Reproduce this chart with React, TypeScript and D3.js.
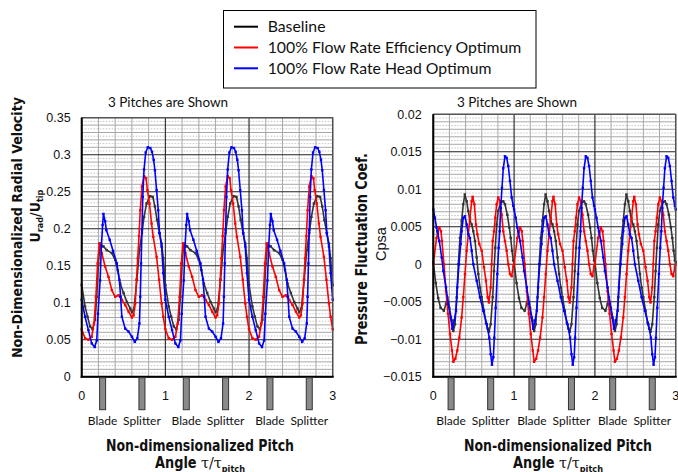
import React from "react";
import * as d3 from "d3";

const W = 678;
const H = 472;

// One blade pitch of each measured trace: [pitch fraction, value]
const radialBaseline: [number, number][] = [
  [0, 0.124], [0.04, 0.095], [0.07, 0.081], [0.1, 0.068], [0.13, 0.064], [0.16, 0.077],
  [0.18, 0.108], [0.2, 0.153], [0.22, 0.18], [0.26, 0.176], [0.3, 0.171], [0.36, 0.167],
  [0.4, 0.158], [0.43, 0.144], [0.46, 0.126], [0.5, 0.113], [0.54, 0.101], [0.58, 0.092],
  [0.6, 0.087], [0.625, 0.092], [0.66, 0.131], [0.69, 0.171], [0.72, 0.194], [0.745, 0.216],
  [0.775, 0.234], [0.815, 0.244], [0.85, 0.243], [0.875, 0.23], [0.9, 0.212], [0.93, 0.194],
  [0.955, 0.18], [0.975, 0.16],
];
const radialEfficiency: [number, number][] = [
  [0, 0.064], [0.04, 0.052], [0.08, 0.05], [0.12, 0.054], [0.147, 0.072], [0.17, 0.108],
  [0.19, 0.153], [0.21, 0.18], [0.24, 0.167], [0.28, 0.149], [0.32, 0.135], [0.36, 0.117],
  [0.4, 0.108], [0.44, 0.11], [0.48, 0.104], [0.52, 0.097], [0.56, 0.088], [0.6, 0.08],
  [0.62, 0.083], [0.64, 0.099], [0.655, 0.131], [0.67, 0.16], [0.685, 0.19], [0.7, 0.225],
  [0.72, 0.257], [0.745, 0.271], [0.77, 0.268], [0.785, 0.252], [0.81, 0.234], [0.835, 0.207],
  [0.855, 0.189], [0.895, 0.162], [0.925, 0.131], [0.955, 0.099], [0.975, 0.081],
];
const radialHead: [number, number][] = [
  [0, 0.104], [0.04, 0.081], [0.08, 0.063], [0.12, 0.045], [0.155, 0.04], [0.18, 0.049],
  [0.195, 0.085], [0.22, 0.13], [0.235, 0.176], [0.25, 0.205], [0.26, 0.22], [0.28, 0.21],
  [0.295, 0.198], [0.335, 0.185], [0.375, 0.17], [0.42, 0.153], [0.45, 0.131], [0.465, 0.108],
  [0.48, 0.081], [0.52, 0.065], [0.56, 0.061], [0.6, 0.054], [0.635, 0.047], [0.665, 0.052],
  [0.69, 0.072], [0.7, 0.108], [0.71, 0.153], [0.72, 0.198], [0.73, 0.243], [0.745, 0.28],
  [0.765, 0.303], [0.79, 0.31], [0.82, 0.309], [0.84, 0.304], [0.86, 0.293], [0.875, 0.279],
  [0.895, 0.252], [0.915, 0.225], [0.93, 0.194], [0.955, 0.176], [0.975, 0.14],
];

const pressureBaseline: [number, number][] = [
  [0, 0.0003], [0.03, -0.0025], [0.06, -0.0045], [0.09, -0.0058], [0.13, -0.0062], [0.157, -0.0053],
  [0.173, -0.0044], [0.198, -0.0058], [0.228, -0.0075], [0.248, -0.0089], [0.268, -0.008],
  [0.29, -0.0044], [0.31, 0], [0.33, 0.0035], [0.351, 0.0058], [0.371, 0.008], [0.39, 0.0093],
  [0.413, 0.0084], [0.433, 0.0071], [0.454, 0.0058], [0.475, 0.0053], [0.495, 0.0044],
  [0.516, 0.0031], [0.537, 0.0009], [0.557, -0.0013], [0.578, -0.0031], [0.599, -0.0044],
  [0.627, -0.0062], [0.652, -0.0078], [0.673, -0.0086], [0.689, -0.009], [0.71, -0.008],
  [0.735, -0.0044], [0.751, -0.0009], [0.767, 0.0022], [0.784, 0.0053], [0.804, 0.0071],
  [0.834, 0.0082], [0.866, 0.0084], [0.887, 0.008], [0.916, 0.0066], [0.941, 0.0049],
  [0.958, 0.0035], [0.974, 0.0018], [0.99, 0.0005],
];
const pressureEfficiency: [number, number][] = [
  [0, 0], [0.04, 0.0035], [0.055, 0.0042], [0.075, 0.0049], [0.095, 0.0044], [0.107, 0.0031],
  [0.132, 0], [0.157, -0.0036], [0.182, -0.0066], [0.207, -0.0093], [0.231, -0.0115],
  [0.248, -0.013], [0.273, -0.0126], [0.297, -0.0115], [0.322, -0.0098], [0.351, -0.0071],
  [0.371, -0.0044], [0.392, -0.0013], [0.413, 0.0018], [0.433, 0.004], [0.454, 0.0062],
  [0.475, 0.0084], [0.487, 0.009], [0.508, 0.008], [0.528, 0.0053], [0.545, 0.004],
  [0.569, 0.0027], [0.599, 0.0018], [0.627, -0.0004], [0.652, -0.0022], [0.673, -0.0044],
  [0.689, -0.0051], [0.71, -0.0031], [0.722, 0], [0.735, 0.0031], [0.751, 0.0044],
  [0.767, 0.0062], [0.784, 0.008], [0.804, 0.0089], [0.825, 0.0084], [0.846, 0.0066],
  [0.866, 0.0044], [0.887, 0.0031], [0.908, 0.0018], [0.928, 0], [0.949, -0.0013],
  [0.97, -0.0016], [0.99, -0.0003],
];
const pressureHead: [number, number][] = [
  [0, 0.0073], [0.02, 0.0062], [0.04, 0.0049], [0.05, 0.0044], [0.074, 0.0031], [0.104, 0.0009],
  [0.124, -0.0009], [0.157, -0.0031], [0.186, -0.0053], [0.215, -0.0071], [0.235, -0.0086],
  [0.26, -0.0075], [0.281, -0.0062], [0.297, -0.0031], [0.318, 0], [0.339, 0.0027],
  [0.351, 0.0044], [0.371, 0.0062], [0.392, 0.0064], [0.413, 0.0053], [0.433, 0.004],
  [0.454, 0.0035], [0.475, 0.0018], [0.495, 0], [0.537, -0.0022], [0.578, -0.0044],
  [0.619, -0.0062], [0.661, -0.008], [0.693, -0.0098], [0.71, -0.012], [0.726, -0.0134],
  [0.743, -0.0124], [0.755, -0.0098], [0.772, -0.0058], [0.792, -0.0013], [0.809, 0.0022],
  [0.822, 0.0044], [0.834, 0.0075], [0.85, 0.0102], [0.866, 0.0128], [0.887, 0.0144],
  [0.908, 0.0142], [0.928, 0.0131], [0.949, 0.0111], [0.97, 0.0089], [0.99, 0.0078],
];

const pitches = [0, 1, 2];
const seriesNames = ["Baseline", "100% Flow Rate Efficiency Optimum", "100% Flow Rate Head Optimum"];
const seriesColors = ["#333333", "#ff0000", "#0000ff"];
const radialTicks = [0, 0.05, 0.1, 0.15, 0.2, 0.25, 0.3, 0.35];
const pressureTicks = [-0.015, -0.01, -0.005, 0, 0.005, 0.01, 0.015, 0.02];
const pitchTicks = [0, 1, 2, 3];
const radialBladeMarks: [string, number][] = [["Blade", 0.25], ["Splitter", 0.72]];
const pressureBladeMarks: [string, number][] = [["Blade", 0.22], ["Splitter", 0.71]];
const panelTitle = "3 Pitches are Shown";

const condensed = "'DejaVu Sans Condensed', 'DejaVu Sans', sans-serif";
const plain = "'Liberation Sans', Arial, sans-serif";
const humanist = "Lato, 'Open Sans', sans-serif";
const fmt = d3.format("");

function acrossPitches(pts: [number, number][]): [number, number][] {
  const out: [number, number][] = [];
  pitches.forEach((k) => pts.forEach(([p, v]) => out.push([p + k, v])));
  out.push([pitches.length, pts[0][1]]);
  return out;
}

type PanelProps = {
  left: number;
  right: number;
  top: number;
  bottom: number;
  domain: [number, number];
  gridStep: number;
  ticks: number[];
  tickRight: number;
  traces: [number, number][][];
  marks: [string, number][];
  titleX: number;
  axisCenter: number;
};

function Panel(p: PanelProps) {
  const x = d3.scaleLinear().domain([0, 3]).range([p.left, p.right]);
  const y = d3.scaleLinear().domain(p.domain).range([p.bottom, p.top]);
  const line = d3
    .line<[number, number]>()
    .x((d) => x(d[0]))
    .y((d) => y(d[1]));
  const iMin = Math.round(p.domain[0] / p.gridStep);
  const iMax = Math.round(p.domain[1] / p.gridStep);
  const hLines = d3.range(iMin, iMax + 1).map((i) => ({
    v: i * p.gridStep,
    kind: i % 10 === 0 ? "major" : i % 2 === 0 ? "minor" : "fine",
  }));
  const vLines = d3.range(0, 16).map((i) => ({ v: i * 0.2, major: i % 5 === 0 }));

  return (
    <g>
      <text x={p.titleX} y={107} fontFamily={humanist} fontSize={13.5} textAnchor="middle" fill="#111">
        {panelTitle}
      </text>
      {hLines
        .filter((h) => h.kind === "fine")
        .map((h, i) => (
          <line key={"f" + i} x1={p.left} x2={p.right} y1={y(h.v)} y2={y(h.v)} stroke="#b8b8b8" strokeWidth={0.8} strokeDasharray="1.5,1.5" />
        ))}
      {hLines
        .filter((h) => h.kind === "minor")
        .map((h, i) => (
          <line key={"m" + i} x1={p.left} x2={p.right} y1={y(h.v)} y2={y(h.v)} stroke="#a8a8a8" strokeWidth={1} />
        ))}
      {vLines
        .filter((v) => !v.major)
        .map((v, i) => (
          <line key={"v" + i} x1={x(v.v)} x2={x(v.v)} y1={p.top} y2={p.bottom} stroke="#a8a8a8" strokeWidth={1} />
        ))}
      {hLines
        .filter((h) => h.kind === "major")
        .map((h, i) => (
          <line key={"M" + i} x1={p.left} x2={p.right} y1={y(h.v)} y2={y(h.v)} stroke="#222" strokeWidth={1.1} />
        ))}
      {vLines
        .filter((v) => v.major)
        .map((v, i) => (
          <line key={"V" + i} x1={x(v.v)} x2={x(v.v)} y1={p.top} y2={p.bottom} stroke="#222" strokeWidth={1.1} />
        ))}
      {p.traces.map((t, si) => {
        const pts = acrossPitches(t);
        return (
          <g key={"s" + si}>
            <path d={line(pts) || ""} fill="none" stroke={seriesColors[si]} strokeWidth={1.6} strokeLinejoin="round" />
            {pts.map((d, j) => (
              <rect key={j} x={x(d[0]) - 1.2} y={y(d[1]) - 1.2} width={2.4} height={2.4} fill={seriesColors[si]} />
            ))}
          </g>
        );
      })}
      <rect x={p.left} y={p.top} width={p.right - p.left} height={p.bottom - p.top} fill="none" stroke="#555" strokeWidth={1.2} />
      <line x1={p.left} x2={p.left} y1={p.top} y2={p.bottom + 1} stroke="#000" strokeWidth={2} />
      <line x1={p.left - 1} x2={p.right + 1} y1={p.bottom} y2={p.bottom} stroke="#000" strokeWidth={2} />
      {p.ticks.map((t) => (
        <text key={"t" + t} x={p.tickRight} y={y(t)} dy="0.36em" textAnchor="end" fontFamily={plain} fontSize={12.5} fill="#111">
          {fmt(t)}
        </text>
      ))}
      {pitchTicks.map((t) => (
        <text key={"x" + t} x={x(t)} y={395} dy="0.36em" textAnchor="middle" fontFamily={plain} fontSize={12.5} fill="#111">
          {t}
        </text>
      ))}
      {pitches.map((k) =>
        p.marks.map(([label, off]) => (
          <g key={label + k}>
            <rect x={x(k + off) - 3} y={p.bottom + 1} width={6} height={32} fill="#8a8a8a" stroke="#333" strokeWidth={1} />
            <text x={x(k + off)} y={425} textAnchor="middle" fontFamily={humanist} fontSize={12} fill="#111">
              {label}
            </text>
          </g>
        ))
      )}
      <text x={p.axisCenter} y={451} textAnchor="middle" fontFamily={condensed} fontWeight="bold" fontSize={15} textLength={188} lengthAdjust="spacingAndGlyphs" fill="#111">
        Non-dimensionalized Pitch
      </text>
      <text x={p.axisCenter} y={468} textAnchor="middle" fontFamily={condensed} fontWeight="bold" fontSize={15} textLength={90} lengthAdjust="spacingAndGlyphs" fill="#111">
        <tspan>Angle </tspan>
        <tspan fontWeight="normal" fontFamily="'DejaVu Serif', serif">τ/τ</tspan>
        <tspan fontSize={9.5} dy={3.5}>pitch</tspan>
      </text>
    </g>
  );
}

export default function App() {
  return (
    <svg width={W} height={H} style={{ position: "absolute", left: 0, top: 0, background: "#fff" }}>
      <rect x={0} y={0} width={W} height={H} fill="#fff" />
      {/* legend */}
      <rect x={223.5} y={10.5} width={312.5} height={77.5} fill="#fff" stroke="#000" strokeWidth={1} />
      {seriesNames.map((name, i) => (
        <g key={name}>
          <line x1={234} x2={258} y1={26.7 + i * 20.8} y2={26.7 + i * 20.8} stroke={seriesColors[i] === "#333333" ? "#000" : seriesColors[i]} strokeWidth={2} />
          <text x={267.7} y={26.7 + i * 20.8 + 5.4} fontFamily={humanist} fontSize={15.8} fill="#111">
            {name}
          </text>
        </g>
      ))}

      <Panel
        left={81.7}
        right={332.7}
        top={117.7}
        bottom={376.7}
        domain={[0, 0.35]}
        gridStep={0.005}
        ticks={radialTicks}
        tickRight={70.7}
        traces={[radialBaseline, radialEfficiency, radialHead]}
        marks={radialBladeMarks}
        titleX={168}
        axisCenter={200}
      />
      <Panel
        left={433.3}
        right={675.7}
        top={114.3}
        bottom={376.7}
        domain={[-0.015, 0.02]}
        gridStep={0.0005}
        ticks={pressureTicks}
        tickRight={421.7}
        traces={[pressureBaseline, pressureEfficiency, pressureHead]}
        marks={pressureBladeMarks}
        titleX={517}
        axisCenter={558}
      />

      {/* vertical axis titles */}
      <text transform="translate(22,227.5) rotate(-90)" textAnchor="middle" fontFamily={condensed} fontWeight="bold" fontSize={14} textLength={261} lengthAdjust="spacingAndGlyphs" fill="#111">
        Non-Dimensionalized Radial Velocity
      </text>
      <text transform="translate(40,216) rotate(-90)" textAnchor="middle" fontFamily={condensed} fontWeight="bold" fontSize={14} fill="#111">
        <tspan>U</tspan>
        <tspan fontSize={9} dy={3}>rad</tspan>
        <tspan dy={-3}>/U</tspan>
        <tspan fontSize={9} dy={3}>tip</tspan>
      </text>
      <text transform="translate(367,249) rotate(-90)" textAnchor="middle" fontFamily={condensed} fontWeight="bold" fontSize={15} textLength={192} lengthAdjust="spacingAndGlyphs" fill="#111">
        Pressure Fluctuation Coef.
      </text>
      <text transform="translate(386,244) rotate(-90)" textAnchor="middle" fontFamily={plain} fontSize={14.5} fill="#111">
        Cpsa
      </text>
    </svg>
  );
}
